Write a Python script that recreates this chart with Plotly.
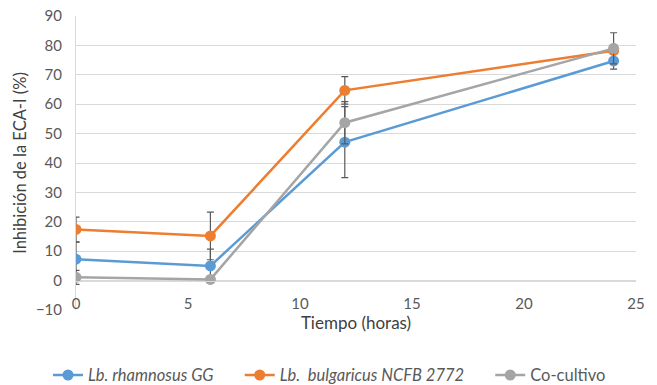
import plotly.graph_objects as go

tiempo = [0, 6, 12, 24]
rhamnosus = [7.3, 5.0, 47.1, 74.7]
rhamnosus_err = [5.8, 5.7, 12.1, 2.8]
bulgaricus = [17.4, 15.2, 64.7, 78.2]
bulgaricus_err = [4.2, 8.1, 4.7, 1.0]
cocultivo = [1.1, 0.4, 53.7, 79.0]
cocultivo_err = [2.4, 0.5, 7.2, 5.3]
y_ticks = [-10, 0, 10, 20, 30, 40, 50, 60, 70, 80, 90]
x_ticks = [0, 5, 10, 15, 20, 25]

PAD = "&nbsp;" * 5
names = ["<i>Lb. rhamnosus GG</i>" + PAD, "<i>Lb.&nbsp; bulgaricus NCFB 2772</i>" + PAD, "Co-cultivo"]
colors = ["#5B9BD5", "#ED7D31", "#A5A5A5"]
series = [rhamnosus, bulgaricus, cocultivo]
errors = [rhamnosus_err, bulgaricus_err, cocultivo_err]

FONT = "Lato"
fig = go.Figure()
for n, c, s, e in zip(names, colors, series, errors):
    fig.add_trace(go.Scatter(
        x=tiempo, y=s, name=n, mode="lines+markers",
        line=dict(color=c, width=2.5),
        marker=dict(color=c, size=11),
        error_y=dict(type="data", array=e, visible=True, color="#595959",
                     thickness=1.2, width=3.5),
    ))

fig.update_layout(
    width=657, height=385,
    margin=dict(l=76, r=21, t=16, b=75, autoexpand=False),
    paper_bgcolor="white", plot_bgcolor="white",
    font=dict(family=FONT, size=15, color="#595959"),
    showlegend=True,
    legend=dict(orientation="h", x=-0.05, xanchor="left", y=-0.222, yanchor="middle",
                font=dict(family=FONT, size=16.5, color="#595959"),
                itemwidth=30, tracegroupgap=0),
    xaxis=dict(range=[0, 25], tickvals=x_ticks, showgrid=False,
               zeroline=False, showline=True, linecolor="#D9D9D9", linewidth=1,
               anchor="free", position=0.1, ticks="", ticklabelstandoff=9,
               automargin=False,
               title=dict(text="Tiempo (horas)", standoff=6,
                          font=dict(family=FONT, size=17, color="#404040"))),
    yaxis=dict(range=[-10, 90], tickvals=y_ticks, showgrid=True, gridcolor="#D9D9D9",
               gridwidth=1, zeroline=False, showline=True, linecolor="#D9D9D9",
               ticks="", ticklabelstandoff=10, automargin=False,
               title=dict(text="Inhibición de la ECA-I (%)", standoff=5,
                          font=dict(family=FONT, size=16.5, color="#404040"))),
)

fig.write_html("out.html", config={"displayModeBar": False},
               post_script="document.body.style.margin='0';document.body.style.overflow='hidden';")
